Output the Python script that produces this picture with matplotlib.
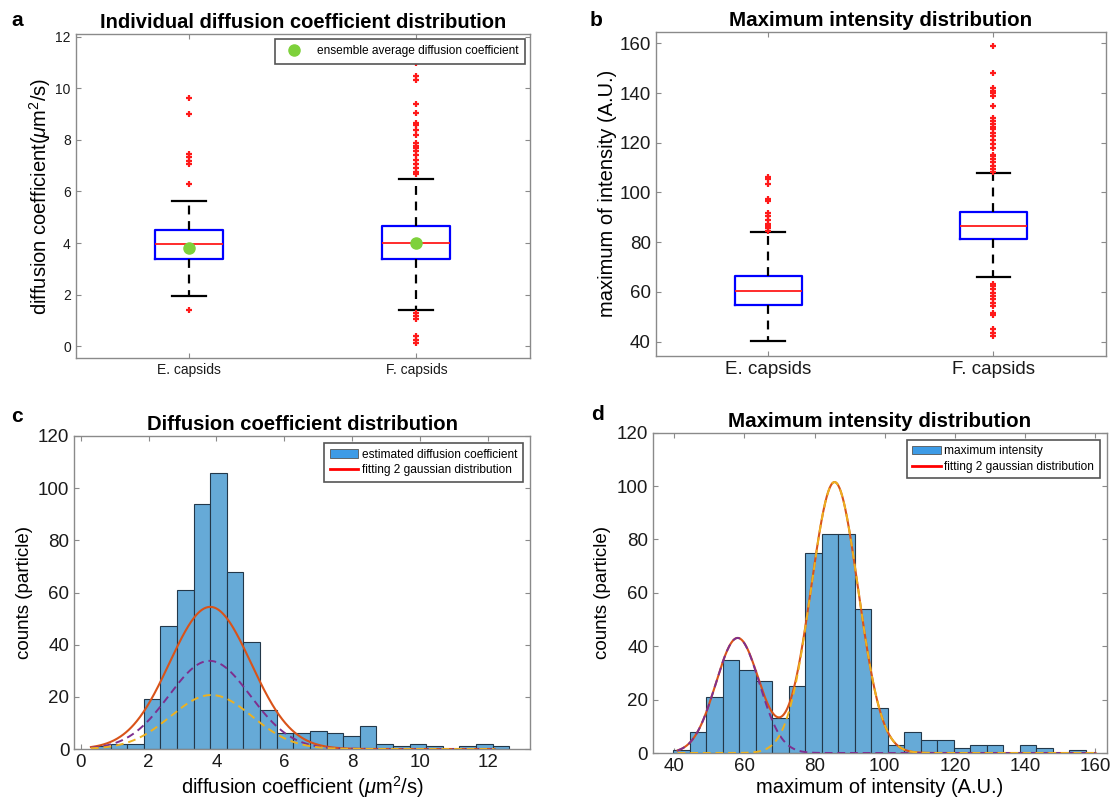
import numpy as np
import matplotlib.pyplot as plt
from matplotlib.lines import Line2D
from matplotlib.patches import Patch

plt.rcParams['font.family'] = ['Liberation Sans', 'DejaVu Sans']
plt.rcParams['mathtext.fontset'] = 'custom'
plt.rcParams['mathtext.rm'] = 'Liberation Sans'
plt.rcParams['mathtext.it'] = 'Liberation Sans:italic'

#data
groups = ['E. capsids', 'F. capsids']

# (a) diffusion coefficient boxplot (um^2/s)
dc_q1 = [3.37, 3.37]
dc_med = [3.95, 3.99]
dc_q3 = [4.50, 4.67]
dc_whislo = [1.94, 1.40]
dc_whishi = [5.65, 6.47]
dc_mean = [3.83, 4.01]
dc_fliers_e = [9.62, 8.99, 7.46, 7.33, 7.20, 7.07, 6.29, 1.41]
dc_fliers_f = [10.96, 10.48, 10.33, 9.40, 9.05, 8.67, 8.58, 8.37, 8.20, 7.87,
               7.78, 7.69, 7.56, 7.40, 7.23, 7.07, 6.90, 6.75, 6.69,
               1.29, 1.16, 1.07, 0.41, 0.26, 0.13]

# (b) maximum intensity boxplot (A.U.)
mi_q1 = [54.7, 81.2]
mi_med = [60.3, 86.4]
mi_q3 = [66.4, 92.0]
mi_whislo = [40.1, 65.8]
mi_whishi = [83.9, 107.7]
mi_fliers_e = [106.2, 105.5, 103.4, 97.5, 96.5, 91.8, 90.7, 89.1, 87.5, 86.4, 85.8, 84.4]
mi_fliers_f = [158.9, 148.1, 142.1, 141.0, 140.0, 138.9, 134.7, 129.8, 128.8, 127.7,
               126.5, 125.6, 123.9, 122.6, 121.3, 119.7, 117.8, 115.2, 114.6, 113.6,
               112.3, 110.7, 109.3, 108.4,
               63.0, 62.3, 61.0, 59.7, 58.3, 57.0, 55.4, 54.3, 51.6, 50.8, 44.9, 43.6, 42.3]

# (c) diffusion coefficient histogram + 2 gaussian fit
dc_edges = [0.39, 0.88, 1.37, 1.86, 2.35, 2.84, 3.33, 3.82, 4.31, 4.80, 5.29, 5.78, 6.27,
            6.76, 7.25, 7.74, 8.23, 8.72, 9.21, 9.70, 10.19, 10.68, 11.17, 11.66, 12.15, 12.64]
dc_counts = [1, 2, 2, 19, 47, 61, 94, 106, 68, 41, 15, 6, 6, 7, 6, 5, 9, 2, 1, 2, 1, 0, 1, 2, 1]
dc_fit_amp = [33.8, 20.7]
dc_fit_mu = [3.80, 3.85]
dc_fit_sigma = [1.2, 1.2]
dc_fit_range = [0.3, 12.2]

# (d) maximum intensity histogram + 2 gaussian fit
mi_edges = [39.8, 44.5, 49.2, 53.9, 58.6, 63.3, 68.0, 72.7, 77.4, 82.1, 86.8, 91.5, 96.2,
            100.9, 105.6, 110.3, 115.0, 119.7, 124.4, 129.1, 133.8, 138.5, 143.2, 147.9, 152.6, 157.3]
mi_counts = [1, 8, 21, 35, 31, 27, 13, 25, 75, 82, 82, 54, 17, 3, 8, 5, 5, 2, 3, 3, 0, 3, 2, 0, 1]
mi_fit_amp = [43.1, 101.5]
mi_fit_mu = [58.1, 85.7]
mi_fit_sigma = [6.2, 6.7]
mi_fit_range = [41, 160]

#styles
box_color = '#0000ff'
out_color = '#ff1a1a'
bar_color = '#66aad7'
fit_color = '#d95319'
comp_colors = ['#7e2f8e', '#edb120']
axis_gray = '#8a8a8a'


def matlab_axes(ax, labelsize):
    for s in ax.spines.values():
        s.set_color(axis_gray)
        s.set_linewidth(1.0)
    ax.tick_params(direction='in', top=True, right=True, length=3.5, width=0.8,
                   color=axis_gray, labelsize=labelsize, labelcolor='#1a1a1a')


def boxpanel(ax, q1, med, q3, lo, hi, fliers_list, widths=0.3):
    stats = []
    for i in range(len(groups)):
        stats.append(dict(q1=q1[i], med=med[i], q3=q3[i], whislo=lo[i], whishi=hi[i],
                          fliers=fliers_list[i], label=groups[i]))
    ax.bxp(stats, positions=[1, 2], widths=widths, capwidths=0.15,
           boxprops=dict(color=box_color, linewidth=1.6),
           medianprops=dict(color=out_color, linewidth=1.3),
           whiskerprops=dict(color='k', linewidth=1.6, linestyle=(0, (4, 3))),
           capprops=dict(color='k', linewidth=1.6),
           flierprops=dict(marker='+', markeredgecolor=out_color, markersize=5,
                           markeredgewidth=1.6, linestyle='none'))
    ax.set_xlim(0.5, 2.5)


def gauss(x, a, mu, s):
    return a*np.exp(-(x - mu)**2/(2*s**2))


def histpanel(ax, edges, counts, amp, mu, sig, xr, label):
    edges = np.array(edges)
    ax.bar(edges[:-1], counts, width=np.diff(edges), align='edge', color=bar_color,
           edgecolor='#23384a', linewidth=0.8, zorder=2)
    x = np.linspace(xr[0], xr[1], 600)
    total = sum(gauss(x, a, m, s) for a, m, s in zip(amp, mu, sig))
    ax.plot(x, total, color=fit_color, lw=1.5, zorder=3)
    for a, m, s, c in zip(amp, mu, sig, comp_colors):
        ax.plot(x, gauss(x, a, m, s), color=c, lw=1.4, ls=(0, (4, 2.5)), zorder=4)
    handles = [Patch(facecolor='#3d9be6', edgecolor='#555555', linewidth=0.6),
               Line2D([], [], color='#ff0000', lw=2)]
    leg = ax.legend(handles, [label, 'fitting 2 gaussian distribution'], loc='upper right',
                    fontsize=8.6, fancybox=False, framealpha=1, borderaxespad=0.6,
                    handlelength=2.4, handletextpad=0.3, borderpad=0.45, labelspacing=0.3)
    leg.get_frame().set_edgecolor('#555555')
    leg.get_frame().set_linewidth(1.2)
    ax.set_ylim(0, 120)
    ax.set_yticks(range(0, 121, 20))
    ax.set_ylabel('counts (particle)', fontsize=13.5)


fig = plt.figure(figsize=(11.11, 8.08), dpi=100)
W, H = 1111., 808.


def add_ax(l, r, t, b):
    return fig.add_axes([l/W, 1 - b/H, (r - l)/W, (b - t)/H])


# a
ax = add_ax(75.7, 530, 34, 358)
matlab_axes(ax, 10)
boxpanel(ax, dc_q1, dc_med, dc_q3, dc_whislo, dc_whishi, [dc_fliers_e, dc_fliers_f])
ax.plot([1, 2], dc_mean, 'o', color='#7ed13b', ms=8, ls='none', zorder=5,
        label='ensemble average diffusion coefficient')
ax.set_ylim(-0.45, 12.1)
ax.set_yticks(range(0, 13, 2))
ax.set_ylabel(r'diffusion coefficient($\mu$m$^2$/s)', fontsize=14.5, labelpad=2)
ax.set_title('Individual diffusion coefficient distribution', fontsize=14.5, fontweight='bold', pad=4)
leg = ax.legend(loc='upper right', fontsize=8.6, fancybox=False, framealpha=1,
                borderaxespad=0.4, handlelength=2.2, borderpad=0.55)
leg.get_frame().set_edgecolor('#555555')
leg.get_frame().set_linewidth(1.2)

# b
ax = add_ax(655.7, 1106, 31.7, 356)
matlab_axes(ax, 13.5)
boxpanel(ax, mi_q1, mi_med, mi_q3, mi_whislo, mi_whishi, [mi_fliers_e, mi_fliers_f])
ax.set_ylim(34.2, 164.7)
ax.set_yticks(range(40, 161, 20))
ax.set_ylabel('maximum of intensity (A.U.)', fontsize=14.5, labelpad=2)
ax.set_title('Maximum intensity distribution', fontsize=14.8, fontweight='bold', pad=4)

# c
ax = add_ax(74.3, 530, 436, 749)
matlab_axes(ax, 13.5)
histpanel(ax, dc_edges, dc_counts, dc_fit_amp, dc_fit_mu, dc_fit_sigma, dc_fit_range,
          'estimated diffusion coefficient')
ax.set_xlim(-0.19, 13.25)
ax.set_xticks(range(0, 13, 2))
ax.set_xlabel(r'diffusion coefficient ($\mu$m$^2$/s)', fontsize=14.5, labelpad=2)
ax.set_title('Diffusion coefficient distribution', fontsize=14.6, fontweight='bold', pad=4)

# d
ax = add_ax(653, 1106.7, 432.7, 753)
matlab_axes(ax, 13.5)
histpanel(ax, mi_edges, mi_counts, mi_fit_amp, mi_fit_mu, mi_fit_sigma, mi_fit_range,
          'maximum intensity')
ax.set_xlim(34, 163.2)
ax.set_xticks(range(40, 161, 20))
ax.set_xlabel('maximum of intensity (A.U.)', fontsize=14.5, labelpad=2)
ax.set_title('Maximum intensity distribution', fontsize=14.8, fontweight='bold', pad=4)

# panel letters
for s, x, y in [('a', 17, 20), ('b', 596, 20), ('c', 17, 416), ('d', 597, 415)]:
    fig.text(x/W, 1 - y/H, s, fontsize=15, fontweight='bold', ha='center', va='center')

fig.savefig('out.png', dpi=100)
